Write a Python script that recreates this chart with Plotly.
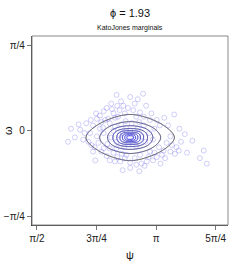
import numpy as np
import plotly.graph_objects as go

# --- data ---
title_text = "ϕ = 1.93"
subtitle_text = "KatoJones marginals"
x_tickvals = [np.pi/2, 3*np.pi/4, np.pi, 5*np.pi/4]
x_ticktext = ["π/2", "3π/4", "π", "5π/4"]
y_tickvals = [-np.pi/4, 0, np.pi/4]
y_ticktext = ["−π/4", "0", "π/4"]
x_range = [1.505, 4.09]
y_range = [-0.862, 0.869]

# sample points (psi, omega)
psi_pts = [2.80, 2.97, 2.63, 2.71, 2.77, 2.49, 2.40, 2.58, 2.93, 3.01, 3.38, 2.12, 2.31, 2.42,
           2.51, 2.53, 2.64, 2.88, 3.06, 3.15, 3.19, 3.30, 2.20, 2.27, 2.07, 2.36, 2.38, 2.29,
           2.31, 2.42, 2.53, 2.62, 2.34, 2.53, 2.63, 2.73, 2.80, 2.80, 2.88, 3.02, 2.99, 3.10,
           3.15, 3.22, 3.24, 3.33, 3.41, 3.44, 3.39, 3.62, 3.77, 3.72, 3.81, 3.28, 3.33, 2.49,
           2.60, 2.69, 2.93, 3.06, 2.14, 2.66, 2.84, 2.36,
           2.70, 2.75, 2.85, 2.62, 2.90, 2.78, 2.68, 2.95, 2.58, 2.82, 2.72, 3.00, 2.55, 2.88,
           2.66, 2.80, 2.74, 2.92, 2.60, 3.05, 2.45, 2.50, 3.10, 3.12, 2.40, 2.98,
           2.45, 2.55, 2.60, 2.47, 2.35, 2.68, 2.86, 2.90, 2.56, 2.73, 2.28, 2.44, 2.22, 2.98,
           3.08, 2.18, 2.25, 2.33, 2.45, 2.58, 2.67, 2.75, 2.86, 2.95, 3.04, 3.12, 3.18, 3.26,
           3.35, 3.47, 3.55, 2.92, 2.70, 3.20, 2.62, 3.25, 3.45, 3.52, 2.02, 1.98]
omega_pts = [0.31, 0.34, 0.23, 0.23, 0.21, 0.21, 0.14, 0.16, 0.17, 0.23, 0.15, 0.06, 0.05, 0.08,
             0.11, 0.07, 0.13, 0.13, 0.10, 0.10, 0.05, 0.05, -0.02, -0.02, -0.06, -0.05, -0.11, -0.13,
             -0.19, -0.19, -0.16, -0.16, -0.27, -0.27, -0.24, -0.25, -0.29, -0.34, -0.31, -0.28, -0.32, -0.27,
             -0.24, -0.22, -0.18, -0.19, -0.15, -0.18, -0.21, -0.09, -0.18, -0.25, -0.30, -0.11, -0.05, -0.23,
             -0.28, -0.21, -0.22, -0.19, 0.01, 0.19, 0.19, 0.11,
             -0.02, 0.03, -0.08, -0.10, 0.02, -0.12, 0.06, -0.05, 0.00, 0.07, -0.15, -0.10, -0.06, -0.14,
             -0.04, 0.00, 0.09, 0.08, 0.04, -0.02, -0.02, -0.12, -0.08, 0.02, 0.02, 0.05,
             0.18, 0.25, 0.12, 0.10, 0.16, 0.27, 0.25, 0.29, 0.20, 0.16, 0.10, 0.03, 0.07, 0.13,
             0.16, -0.08, -0.10, -0.15, -0.16, -0.20, -0.28, -0.22, -0.25, -0.30, -0.24, -0.20, -0.15, -0.25,
             -0.13, -0.10, -0.20, -0.37, -0.36, -0.30, 0.33, 0.12, 0.02, -0.03, 0.02, -0.10]

centre_psi, centre_omega = 2.80, -0.061
scale_psi, scale_omega = 0.248, 0.09
peak_density = 21.8
contour_levels = [2, 4, 6, 8, 10, 12, 14, 16, 18]

gx = np.linspace(x_range[0], x_range[1], 600)
gy = np.linspace(y_range[0], y_range[1], 450)
X, Y = np.meshgrid(gx, gy)
U = np.abs((X - centre_psi) / scale_psi)
V = np.abs((Y - centre_omega) / scale_omega)
s, q = 0.5, 1.4
n_out = ((U**2 + s**2) ** (q / 2) + (V**2 + s**2) ** (q / 2)) ** (1 / q) - 0.2
n_in = (U**3 + V**3) ** (1 / 3)
w = np.exp(-(n_in / 1.2) ** 2)
R = w * n_in + (1 - w) * n_out
Z = peak_density * np.exp(-R)

fig = go.Figure()
fig.add_trace(go.Scatter(
    x=psi_pts, y=omega_pts, mode="markers",
    marker=dict(symbol="circle-open", size=5, color="rgba(100,100,235,0.3)", line=dict(width=1)),
    hoverinfo="skip", showlegend=False))
fig.add_trace(go.Contour(
    x=gx, y=gy, z=Z,
    contours=dict(start=contour_levels[0], end=contour_levels[-1], size=2,
                  coloring="lines", showlabels=False),
    colorscale=[[0, "#3a3a3a"], [0.3, "#2a2a8c"], [1, "#2424e0"]],
    line=dict(width=1), showscale=False, hoverinfo="skip"))

W, H = 245, 273
ml, mr, mt, mb = 32, 17, 36, 48
pw, ph = W - ml - mr, H - mt - mb
font = "Liberation Sans, Arial, sans-serif"

def px_x(p):
    return (p - ml) / pw

def px_y(p):
    return (H - mb - p) / ph

axis_common = dict(showgrid=False, zeroline=False, showline=True, linecolor="#333", linewidth=1.2,
                   ticks="outside", ticklen=4, tickcolor="#777", tickwidth=1,
                   tickfont=dict(size=10, color="#222"), automargin=False)

fig.update_layout(
    width=W, height=H, margin=dict(l=ml, r=mr, t=mt, b=mb, autoexpand=False),
    plot_bgcolor="white", paper_bgcolor="white",
    font=dict(family=font, size=10, color="#222"),
    showlegend=False,
    xaxis=dict(range=x_range, tickvals=x_tickvals, ticktext=x_ticktext, **axis_common),
    yaxis=dict(range=y_range, tickvals=y_tickvals, ticktext=y_ticktext, **axis_common),
    shapes=[dict(type="rect", xref="paper", yref="paper", x0=0, y0=0, x1=1, y1=1,
                 line=dict(color="#888", width=1))],
    annotations=[
        dict(text=title_text, x=0.5, y=px_y(13), xref="paper", yref="paper",
             showarrow=False, font=dict(size=11, color="#111"), xanchor="center", yanchor="middle"),
        dict(text=subtitle_text, x=0.5, y=px_y(28), xref="paper", yref="paper",
             showarrow=False, font=dict(size=7, color="#111"), xanchor="center", yanchor="middle"),
        dict(text="ψ", x=0.5, y=px_y(255), xref="paper", yref="paper",
             showarrow=False, font=dict(size=11, color="#111"), xanchor="center", yanchor="middle"),
        dict(text="ω", x=px_x(8), y=px_y(131), xref="paper", yref="paper", textangle=-90,
             showarrow=False, font=dict(size=11, color="#111"), xanchor="center", yanchor="middle"),
    ],
)

fig.write_html("out.html", config={"displayModeBar": False},
               post_script="document.body.style.margin='0px';")
